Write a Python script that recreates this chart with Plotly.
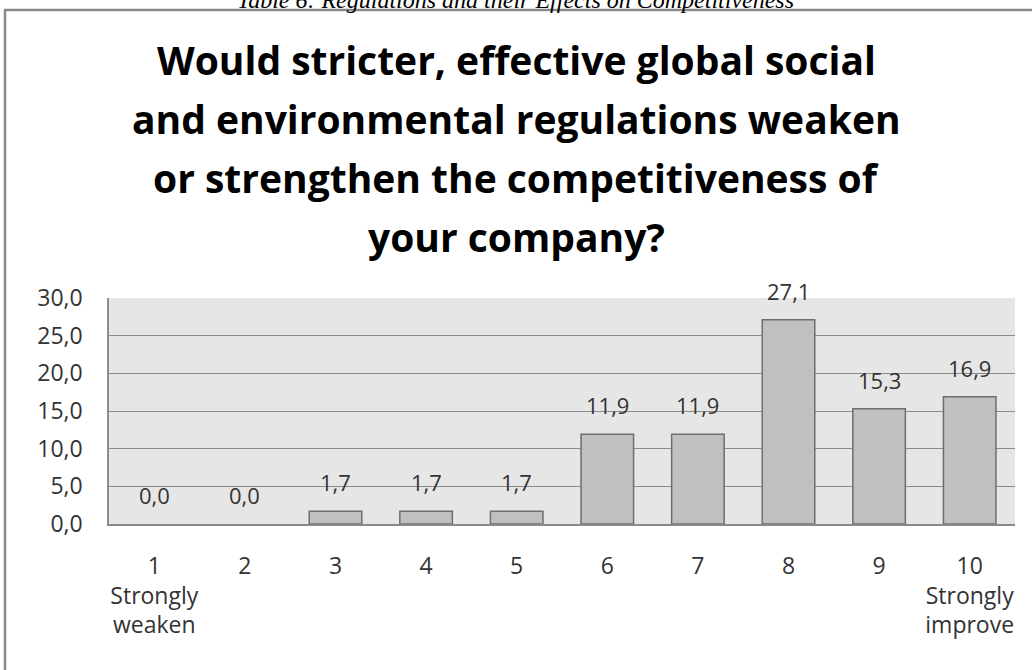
import plotly.graph_objects as go

# Survey answers on a 1-10 scale, share of respondents in percent
scale_points = [1, 2, 3, 4, 5, 6, 7, 8, 9, 10]
scale_labels = ["1<br>Strongly<br>weaken", "2", "3", "4", "5", "6", "7", "8", "9",
                "10<br>Strongly<br>improve"]
shares = [0.0, 0.0, 1.7, 1.7, 1.7, 11.9, 11.9, 27.1, 15.3, 16.9]
y_ticks = [0, 5, 10, 15, 20, 25, 30]

title_lines = [
    "Would stricter, effective global social",
    "and environmental regulations weaken",
    "or strengthen the competitiveness of",
    "your company?",
]
caption = "Table 6: Regulations and their Effects on Competitiveness"

W, H = 1032, 670
L, R, T, B = 109, 17, 298, 146
plot_h = H - T - B
plot_w = W - L - R


def py(pixel_y):
    """Pixel row (from the top of the page) to paper y."""
    return (H - B - pixel_y) / plot_h


def px(pixel_x):
    return (pixel_x - L) / plot_w


FONT = "Open Sans"
TEXT = "#333333"

fig = go.Figure()
fig.add_trace(go.Bar(
    x=scale_points,
    y=shares,
    width=0.58,
    marker=dict(
        color="#c0c0c0",
        # empty categories get no outline, so nothing is drawn for them
        line=dict(color="#6e6e6e", width=[0 if v == 0 else 1.5 for v in shares]),
    ),
    hoverinfo="x+y",
))

annotations = []
# value labels sit a little above each bar
for xv, v in zip(scale_points, shares):
    annotations.append(dict(
        x=xv, y=v, xref="x", yref="y",
        text=f"{v:.1f}".replace(".", ","),
        showarrow=False, yanchor="bottom", yshift=12,
        font=dict(family=FONT, size=22, color=TEXT),
    ))

# chart title, one annotation per line
title_centers = [60, 118, 177, 236]
for line, yc in zip(title_lines, title_centers):
    annotations.append(dict(
        x=px(516), y=py(yc), xref="paper", yref="paper",
        text=f"<b>{line}</b>", showarrow=False,
        xanchor="center", yanchor="middle",
        font=dict(family=FONT, size=39, color="#000000"),
    ))

# table caption above the chart frame
annotations.append(dict(
    x=px(515), y=py(0), xref="paper", yref="paper",
    text=f"<i>{caption}</i>", showarrow=False,
    xanchor="center", yanchor="middle",
    font=dict(family="Liberation Serif", size=24, color="#000000"),
))

fig.update_layout(
    width=W, height=H,
    margin=dict(l=L, r=R, t=T, b=B, pad=0),
    paper_bgcolor="#ffffff",
    plot_bgcolor="#e6e6e6",
    separators=", ",
    showlegend=False,
    bargap=0.42,
    annotations=annotations,
    shapes=[dict(
        type="rect", xref="paper", yref="paper",
        x0=px(5), y0=py(700), x1=px(1040), y1=py(10),
        line=dict(color="#8a8a8a", width=2.5),
        fillcolor="rgba(0,0,0,0)", layer="below",
    )],
)

fig.update_xaxes(
    range=[0.5, 10.5],
    tickmode="array", tickvals=scale_points, ticktext=scale_labels,
    tickfont=dict(family=FONT, size=23, color=TEXT),
    ticks="", ticklabelstandoff=20,
    showgrid=False, zeroline=False,
    showline=True, linecolor="#8a8a8a", linewidth=2,
    fixedrange=True,
)
fig.update_yaxes(
    range=[0, 30],
    tickmode="array", tickvals=y_ticks, tickformat=".1f",
    tickfont=dict(family=FONT, size=23, color=TEXT),
    ticks="", ticklabelstandoff=20,
    showgrid=True, gridcolor="#8c8c8c", gridwidth=1,
    zeroline=False,
    showline=True, linecolor="#8c8c8c", linewidth=1.5,
    fixedrange=True,
)

fig.write_html("out.html")
